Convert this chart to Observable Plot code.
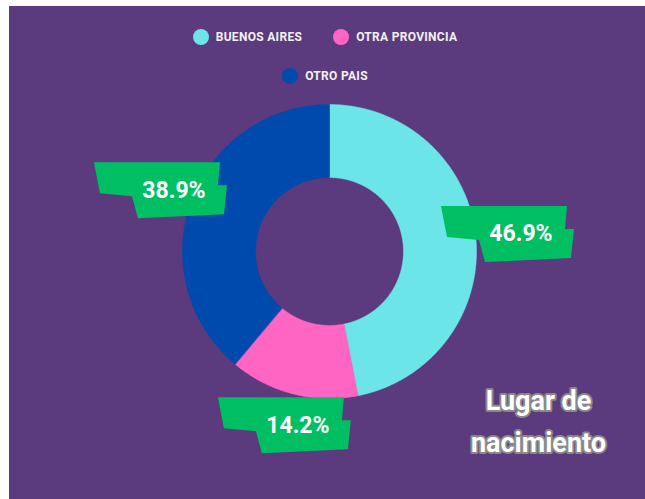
<!DOCTYPE html>
<html>
<head>
<meta charset="utf-8">
<script src="https://cdn.jsdelivr.net/npm/d3@7"></script>
<script src="https://cdn.jsdelivr.net/npm/@observablehq/plot@0.6"></script>
<style>
  html, body { margin: 0; padding: 0; background: #ffffff; }
  #wrap { position: relative; width: 645px; height: 499px; overflow: hidden; }
  #bg { position: absolute; left: 9px; top: 6px; right: 0; bottom: 0; background: #5b3a7d; }
  #chart { position: absolute; left: 0; top: 0; }
  #legend {
    position: absolute; left: 175px; top: 29px; width: 300px;
    display: flex; flex-wrap: wrap; justify-content: center;
    column-gap: 31px; row-gap: 23px;
    font-family: Roboto, sans-serif; font-weight: 700; font-size: 12px;
    color: #f2f2f2; letter-spacing: 0.3px;
  }
  .item { display: flex; align-items: center; height: 16px; white-space: nowrap; }
  .sw { width: 16px; height: 16px; border-radius: 50%; margin-right: 7px; }
</style>
</head>
<body>
<div id="wrap">
  <div id="bg"></div>
  <div id="chart"></div>
  <div id="legend"></div>
</div>
<script>
// ---- data ----
const categories = ["BUENOS AIRES", "OTRA PROVINCIA", "OTRO PAIS"];
const values = [46.9, 14.2, 38.9];
const colors = ["#6ce5e8", "#ff66c4", "#004aad"];
const title = "Lugar de\nnacimiento";

// ---- geometry from data ----
const R = 147;               // outer radius in px
const innerRatio = 0.503;
const labelRadius = 1.22;
const labelShiftPx = 13;     // banners sit slightly right of the centroid
const total = d3.sum(values);
let acc = 0;
const slices = categories.map((name, i) => {
  const a0 = acc / total * 2 * Math.PI;
  acc += values[i];
  const a1 = acc / total * 2 * Math.PI;
  return {name, value: values[i], a0, a1, mid: (a0 + a1) / 2};
});

const arcPoints = [];
for (const s of slices) {
  const n = Math.max(2, Math.ceil((s.a1 - s.a0) / (Math.PI / 360)));
  for (let k = 0; k <= n; k++) {
    const a = s.a0 + (s.a1 - s.a0) * k / n;
    arcPoints.push({name: s.name, x: Math.sin(a), y: Math.cos(a)});
  }
  for (let k = n; k >= 0; k--) {
    const a = s.a0 + (s.a1 - s.a0) * k / n;
    arcPoints.push({name: s.name, x: innerRatio * Math.sin(a), y: innerRatio * Math.cos(a)});
  }
}

const labels = slices.map(s => ({
  name: s.name,
  text: s.value.toFixed(1) + "%",
  x: labelRadius * Math.sin(s.mid) + labelShiftPx / R,
  y: labelRadius * Math.cos(s.mid)
}));

// banner template (pixel offsets from label centre, converted to data units)
const bannerShape = [[-80,-28],[46,-28],[44,-5],[53,-5],[50,24],[-36,28],[-42,6],[-74,3]];
const bannerPoints = [];
for (const l of labels) {
  for (const [dx, dy] of bannerShape) {
    bannerPoints.push({name: l.name, x: l.x + dx / R, y: l.y - dy / R});
  }
}

const cx = 329, cy = 251;
const plot = Plot.plot({
  width: 645,
  height: 499,
  margin: 0,
  style: {background: "transparent", overflow: "visible"},
  x: {domain: [-1, 1], range: [cx - R, cx + R], axis: null},
  y: {domain: [-1, 1], range: [cy + R, cy - R], axis: null},
  color: {domain: categories, range: colors},
  marks: [
    Plot.line(arcPoints, {x: "x", y: "y", z: "name", fill: "name", stroke: "name", strokeWidth: 0.5, curve: "linear-closed"}),
    Plot.line(bannerPoints, {x: "x", y: "y", z: "name", fill: "#00bf63", stroke: null, curve: "linear-closed"}),
    Plot.text(labels, {x: "x", y: "y", text: "text", fill: "white", fontSize: 23, fontWeight: 700, fontFamily: "Roboto, sans-serif", textAnchor: "middle", lineAnchor: "middle"}),
    Plot.text([title], {
      frameAnchor: "bottom-right", dx: -107, dy: -82,
      textAnchor: "middle", lineAnchor: "middle", lineHeight: 1.57,
      fill: "white", stroke: "#8a8a8a", strokeWidth: 4,
      fontSize: 27, fontWeight: 700, fontFamily: "Roboto, sans-serif"
    })
  ]
});
document.getElementById("chart").appendChild(plot);

// legend
const legend = document.getElementById("legend");
categories.forEach((c, i) => {
  const item = document.createElement("div");
  item.className = "item";
  const sw = document.createElement("span");
  sw.className = "sw";
  sw.style.background = colors[i];
  const t = document.createElement("span");
  t.textContent = c;
  item.appendChild(sw);
  item.appendChild(t);
  legend.appendChild(item);
});
</script>
</body>
</html>
